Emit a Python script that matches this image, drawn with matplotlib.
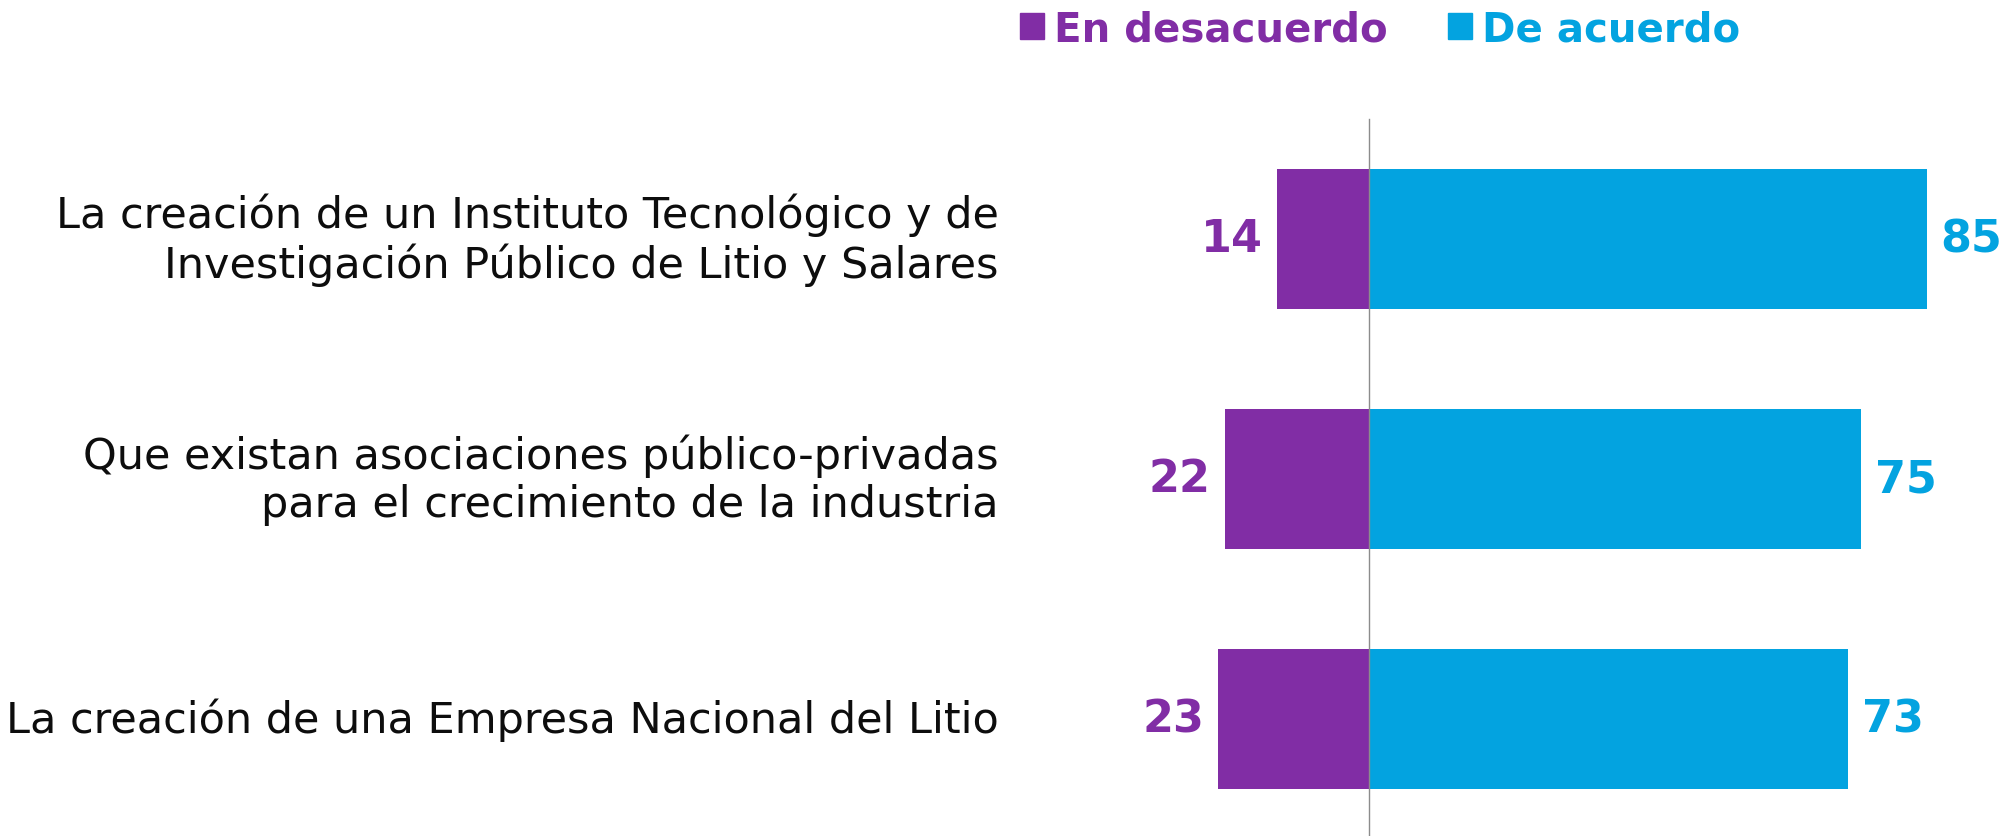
import matplotlib.pyplot as plt
from matplotlib.patches import Patch

# datos
categorias = [
    "La creación de un Instituto Tecnológico y de\nInvestigación Público de Litio y Salares",
    "Que existan asociaciones público-privadas\npara el crecimiento de la industria",
    "La creación de una Empresa Nacional del Litio",
]
en_desacuerdo = [14, 22, 23]
de_acuerdo = [85, 75, 73]
series = ["En desacuerdo", "De acuerdo"]

morado = "#812DA5"
azul = "#03A3E0"

plt.rcParams['font.family'] = ['DejaVu Sans']

fig = plt.figure(figsize=(20.08, 8.37), dpi=100)
ax = fig.add_axes([0, 0, 1, 1])

y = list(range(len(categorias)))
neg = [-v for v in en_desacuerdo]
b1 = ax.barh(y, neg, height=0.58, color=morado)
b2 = ax.barh(y, de_acuerdo, height=0.58, color=azul)

# escalas: cero en x=1369 px, 6.56 px por punto
ax.set_xlim(-1369 / 6.56, (2008 - 1369) / 6.56)
ax.set_ylim(2.4875, -1.0)
ax.axis('off')

ax.plot([0, 0], [-0.5, 2.4875], color="#8c8c8c", lw=1.0)

for i in y:
    ax.annotate(str(en_desacuerdo[i]), (neg[i], i), xytext=(-10, 0),
                textcoords='offset points', ha='right', va='center',
                fontsize=32, fontweight='bold', color=morado)
    ax.annotate(str(de_acuerdo[i]), (de_acuerdo[i], i), xytext=(10, 0),
                textcoords='offset points', ha='left', va='center',
                fontsize=32, fontweight='bold', color=azul)
    ax.text((999 - 1369) / 6.56, i, categorias[i], ha='right', va='center',
            fontsize=31, color="#0d0d0d", linespacing=1.18)

leg = fig.legend([Patch(color=morado), Patch(color=azul)], series,
                 loc='center', bbox_to_anchor=(1380 / 2008, 1 - 30 / 837),
                 ncol=2, frameon=False, handlelength=0.6, handleheight=0.6,
                 handletextpad=0.25, columnspacing=1.5,
                 prop={'size': 29, 'weight': 'bold'})
for txt, c in zip(leg.get_texts(), [morado, azul]):
    txt.set_color(c)

fig.savefig("out.png", dpi=100)
